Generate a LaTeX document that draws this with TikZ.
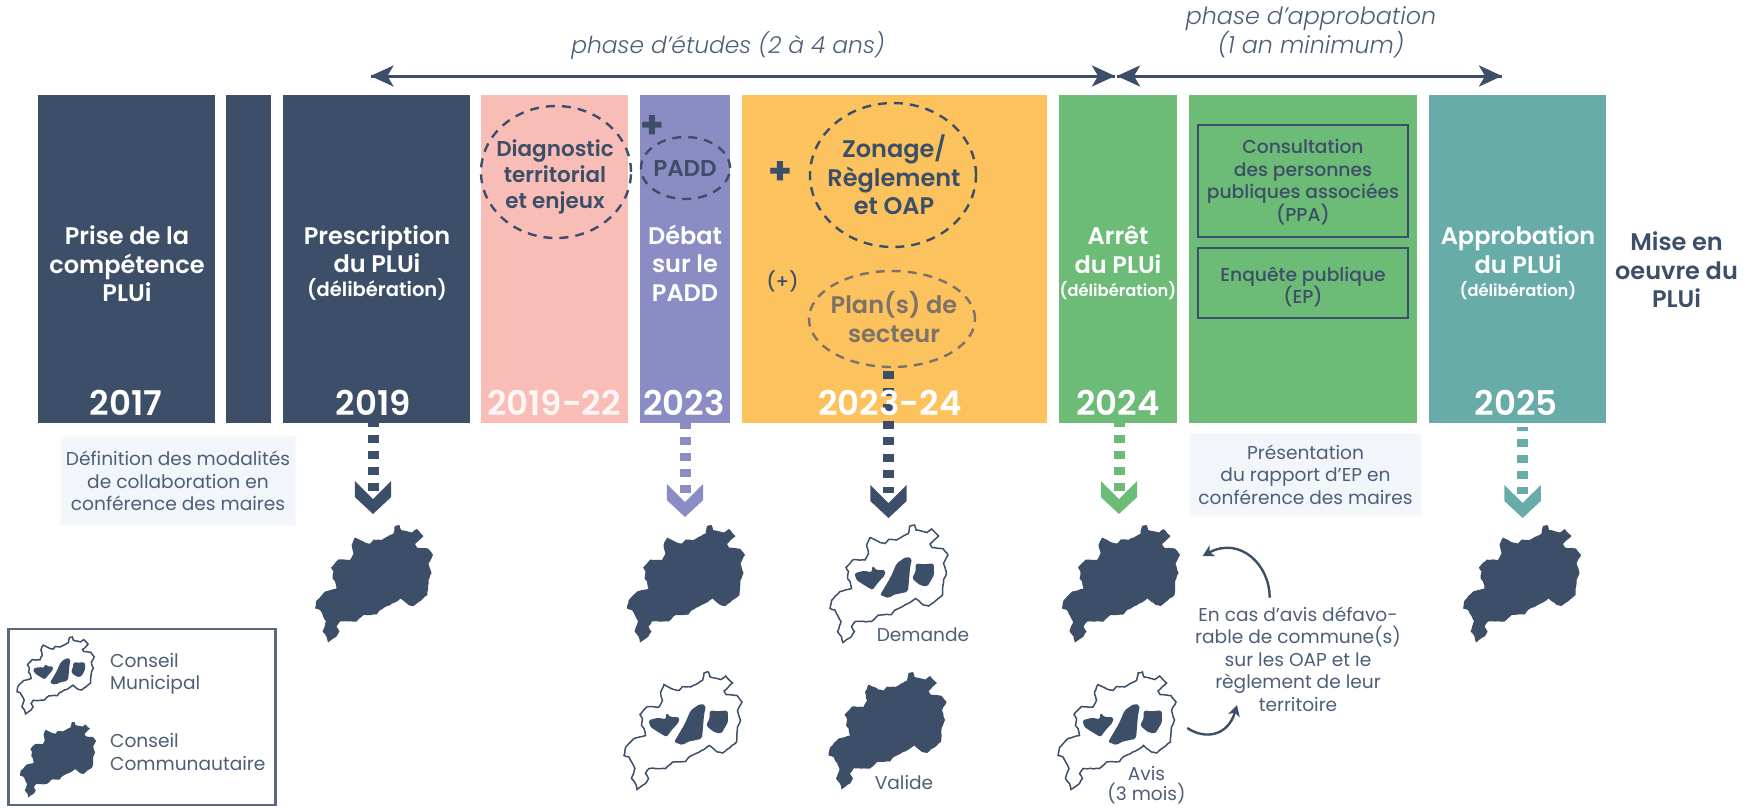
\documentclass[tikz,border=0pt]{standalone}
\usepackage{fontspec}
\setmainfont{Poppins}[BoldFont={Poppins SemiBold},ItalicFont={Poppins Light Italic}]
\newfontfamily\medf{Poppins Medium}
\newfontfamily\xbold{Poppins Bold}
\usetikzlibrary{arrows.meta,shapes.geometric,decorations.pathmorphing}
\definecolor{navy}{HTML}{3D4F68}
\definecolor{pinkbox}{HTML}{F8BDB7}
\definecolor{purplebox}{HTML}{8B8CC4}
\definecolor{orangebox}{HTML}{FCC25E}
\definecolor{greenbox}{HTML}{6CBB76}
\definecolor{tealbox}{HTML}{68ACAA}
\definecolor{softtext}{HTML}{4D5E77}
\definecolor{paleblue}{HTML}{F2F6FA}
\definecolor{planc}{HTML}{7D7268}
\newcommand{\fs}[2]{\fontsize{#1}{#2}\selectfont}
\newcommand{\delib}{{\fs{16.3}{19}\bfseries (délibération)}}
\newcommand{\delibwide}{{\fs{19.5}{22}\bfseries (délibération)}}
\tikzset{
  column/.style={draw=none,fill=#1},
  whitelab/.style={text=white,align=center,inner sep=0pt,font=\fs{24}{28.5}\bfseries},
  yearlab/.style={text=#1,inner sep=0pt,font=\fs{34}{38}\bfseries},
  yearlab/.default=white,
  softlab/.style={text=softtext,align=center,inner sep=0pt,font=\fs{18.6}{22.5}},
  phaselab/.style={text=softtext,align=center,inner sep=0pt,font=\fs{23.8}{29}\itshape},
  dashring/.style={draw=#1,ellipse,line width=2.4pt,dash pattern=on 9pt off 7pt,inner sep=0pt,outer sep=0pt},
  dashring/.default=navy,
  ringtext/.style={text=#1,align=center,inner sep=0pt,font=\fs{24}{28.5}\bfseries},
  ringtext/.default=navy,
  framed/.style={draw=navy,line width=2.6pt,inner sep=0pt,outer sep=0pt},
  framedtext/.style={align=center,inner sep=0pt,text=navy,font=\fs{18.7}{22.5}\medf},
  notebox/.style={draw=paleblue!70!white,fill=paleblue,line width=1.5pt,inner sep=0pt,align=center,text=softtext,font=\fs{18.6}{22.5}},
  phasearrow/.style={draw=navy,line width=3pt,-{Stealth[length=23pt,width=21pt,inset=6pt]}},
  dotline/.style={line width=11pt,draw=#1},
  loop/.style={draw=navy,line width=2.4pt,-{Stealth[length=11pt,width=12pt,inset=3pt]}},
  rough/.style={decorate,decoration={random steps,segment length=3pt,amplitude=.4pt}},
}
\newcommand{\outlinepath}{(95,6) -- (99.5,5) -- (101,10) -- (108,11.5) -- (112,12.5) -- (116.7,9) -- (123.5,16) -- (115,24) -- (117,27.5) -- (128,28.5) -- (133,35) -- (128.5,43.5) -- (131.5,53) -- (128.5,60) -- (127.5,75) -- (113.5,86) -- (108.5,85) -- (100.5,78.5) -- (95,82.5) -- (80,90) -- (76.5,94.5) -- (63.5,95) -- (56.5,101.5) -- (40,101.5) -- (36.5,106.5) -- (39.5,111.5) -- (36.5,116.5) -- (28,122.5) -- (26.5,116.5) -- (22.5,111.5) -- (26,101.5) -- (20,90) -- (15,88.5) -- (16.5,80.5) -- (25,71.5) -- (36.5,68.5) -- (35,61.5) -- (32.5,58.5) -- (33.5,51.5) -- (31,47.5) -- (38.5,39.5) -- (50,40) -- (53.5,33.5) -- (51.5,25) -- (55,17.5) -- (65,22.5) -- (70,23.5) -- (73.5,19.5) -- (81.5,20) -- (93.5,13.5) -- cycle}
\newcommand{\holes}{%
  \fill[navy,rounded corners=1.5pt] (39.5,53.3) -- (49,50.7) -- (56.7,52.3) -- (57.5,45.7) -- (61.3,50) -- (70,50) -- (70,55) -- (62.5,63.3) -- (57.5,70) -- (49,65) -- (41.4,60) -- cycle;
  \fill[navy,rounded corners=2pt] (91.2,36.7) -- (96.9,38.3) -- (95,48.3) -- (93,71.7) -- (77.8,75) -- (74,78.3) -- (65.1,75) -- (75.9,56.7) -- (81.6,43.3) -- cycle;
  \fill[navy,rounded corners=2.5pt] (100.7,43.3) -- (108.4,44.3) -- (118.7,43.3) -- (119.1,55) -- (112.2,66.7) -- (104.6,65) -- (96.9,58.3) -- (100.7,51.7) -- cycle;}
\tikzset{
  commap/.pic={\fill[navy,rough] \outlinepath;},
  munimap/.pic={\draw[navy,fill=white,line width=1.5pt,rough] \outlinepath; \holes},
  chevron/.pic={\fill[#1] (-18.2,-33) -- (0,-15) -- (18.2,-33) -- (18.2,-17) -- (0,0) -- (-18.2,-17) -- cycle;},
}
\begin{document}
\begin{tikzpicture}[x=1pt,y=-1pt]
\useasboundingbox (0,0) rectangle (1756,807);
\pgfmathsetseed{7}
% columns
\fill[column=navy] (38,95) rectangle (215,423);
\fill[column=navy] (226,95) rectangle (271,423);
\fill[column=navy] (283,95) rectangle (470,423);
\fill[column=pinkbox] (481,95) rectangle (627.5,423);
\fill[column=purplebox] (639.5,95) rectangle (730,423);
\fill[column=orangebox] (742,95) rectangle (1046.5,423);
\fill[column=greenbox] (1058.5,95) rectangle (1176.5,423);
\fill[column=greenbox] (1189,95) rectangle (1417,423);
\fill[column=tealbox] (1429,95) rectangle (1606,423);
% phase arrows
\coordinate (pa) at (370.5,76); \coordinate (pb) at (1115,76);
\coordinate (pc) at (1117,76); \coordinate (pd) at (1502,76);
\draw[phasearrow] (pb) -- (pa);
\draw[phasearrow] (pa) -- (pb);
\draw[phasearrow] (pd) -- (pc);
\draw[phasearrow] (pc) -- (pd);
\node[phaselab,font=\fs{23.4}{29}\itshape] (ph1) at (728,46) {phase d’études (2 à 4 ans)};
\node[phaselab] (ph2) at (1311,32) {phase d’approbation\\(1 an minimum)};
% dotted connectors
\coordinate (d1a) at (373,423); \coordinate (d1b) at (373,491);
\coordinate (d2a) at (685,423); \coordinate (d2b) at (685,493);
\coordinate (d3a) at (888.5,371); \coordinate (d3b) at (888.5,493);
\coordinate (d4a) at (1119,423); \coordinate (d4b) at (1119,491);
\coordinate (d5a) at (1522.6,427); \coordinate (d5b) at (1522.6,494);
\pic at (373,514) {chevron=navy};
\pic at (685,517) {chevron=purplebox};
\pic at (888.5,518) {chevron=navy};
\pic at (1119,514) {chevron=greenbox};
\pic at (1522.6,518) {chevron=tealbox};
\draw[dotline=navy,dash pattern=on 8pt off 8pt,dash phase=4pt] (d1a) -- (d1b);
\draw[dotline=purplebox,dash pattern=on 8pt off 8pt,dash phase=2pt] (d2a) -- (d2b);
\draw[dotline=navy,dash pattern=on 8pt off 8.5pt] (d3a) -- (d3b);
\draw[dotline=greenbox,dash pattern=on 8pt off 8pt,dash phase=4pt] (d4a) -- (d4b);
\draw[dotline=tealbox,dash pattern=on 8pt off 8pt,dash phase=4pt] (d5a) -- (d5b);
% column labels
\node[whitelab] (c1) at (127,264) {Prise de la\\compétence\\PLUi};
\node[whitelab] (c3) at (377,263) {Prescription\\du PLUi\\[-5pt]\delibwide};
\node[whitelab] (c5) at (685,263) {Débat\\sur le\\PADD};
\node[whitelab] (c7) at (1118,263) {Arrêt\\du PLUi\\[-5pt]\delib};
\node[whitelab] (c9) at (1518,263) {Approbation\\du PLUi\\[-5pt]\delib};
\node[yearlab] (y1) at (126,403) {2017};
\node[yearlab] (y2) at (373.5,403) {2019};
\node[yearlab=white!85!pinkbox] (y3) at (554,403) {2019-22};
\node[yearlab] (y4) at (684,403) {2023};
\node[yearlab] (y5) at (890,403) {2023-24};
\node[yearlab] (y6) at (1118,403) {2024};
\node[yearlab] (y7) at (1516,403) {2025};
% dashed rings
\node[dashring,minimum width=150pt,minimum height=132pt] (diag) at (556,172) {};
\node[ringtext,font=\fs{21.5}{26}\bfseries] (diagt) at (555,177) {Diagnostic\\territorial\\et enjeux};
\node[dashring,minimum width=89pt,minimum height=62pt] (padd) at (685.5,168) {};
\node[ringtext,font=\fs{23}{26}\bfseries] (paddt) at (685,168) {PADD};
\node[dashring,minimum width=166pt,minimum height=144pt] (zon) at (893,175) {};
\node[ringtext] (zont) at (894,175) {Zonage/\\Règlement\\et OAP};
\node[dashring=planc,minimum width=166pt,minimum height=96pt] (plan) at (892,319) {};
\node[ringtext=planc] (plant) at (894,317) {Plan(s) de\\secteur};
\node[text=navy,inner sep=0pt,font=\fs{38}{38}\xbold] (plus1) at (652,127) {+};
\node[text=navy,inner sep=0pt,font=\fs{38}{38}\xbold] (plus2) at (780,173) {+};
\node[text=navy,inner sep=0pt,font=\fs{19}{22}\medf] (plus3) at (782.5,281) {(+)};
% framed boxes
\node[framed,minimum width=210pt,minimum height=112pt] (ppa) at (1303,181) {};
\node[framedtext] (ppat) at (1303,182) {Consultation\\des personnes\\publiques associées\\(PPA)};
\node[framed,minimum width=210pt,minimum height=70pt] (ep) at (1303,283) {};
\node[framedtext] (ept) at (1303,287) {Enquête publique\\(EP)};
\node[ringtext] (mise) at (1676.5,270) {Mise en\\oeuvre du\\PLUi};
% note boxes
\node[notebox,minimum width=234pt,minimum height=88pt] (n1) at (178,481) {Définition des modalités\\de collaboration en\\conférence des maires};
\node[notebox,minimum width=231pt,minimum height=81pt] (n2) at (1305.5,474.5) {Présentation\\du rapport d’EP en\\conférence des maires};
% maps
\pic at (300,520) {commap};
\pic at (612,520) {commap};
\pic at (1047,520) {commap};
\pic at (1448,520) {commap};
\pic at (813.5,667) {commap};
\pic at (815,520) {munimap};
\pic at (609,667) {munimap};
\pic at (1043,667) {munimap};
% map labels
\node[softlab] (dem) at (923,635) {Demande};
\node[softlab] (val) at (904,782) {Valide};
\node[softlab,font=\fs{18.6}{20.5}] (avis) at (1146.5,785) {Avis\\(3 mois)};
\node[softlab] (cas) at (1298,659) {En cas d’avis défavo-\\rable de commune(s)\\sur les OAP et le\\règlement de leur\\territoire};
% loop arrows
\coordinate (la) at (1269.6,597.7); \coordinate (lb) at (1202.6,556);
\coordinate (lc) at (1187.3,728); \coordinate (ld) at (1237,705);
\draw[loop] (la) .. controls (1270,565) and (1240,536) .. (lb);
\draw[loop] (lc) .. controls (1205,740) and (1228,736) .. (ld);
% legend
\draw[navy!85!white,line width=2.4pt] (8.4,629) rectangle (275.5,805);
\pic[scale=.655] at (7.2,633.7) {munimap};
\pic[scale=.645] at (10.3,718.5) {commap};
\node[softlab,align=left,anchor=west] (lg1) at (110,674) {Conseil\\Municipal};
\node[softlab,align=left,anchor=west] (lg2) at (110,752) {Conseil\\Communautaire};
\end{tikzpicture}
\end{document}
